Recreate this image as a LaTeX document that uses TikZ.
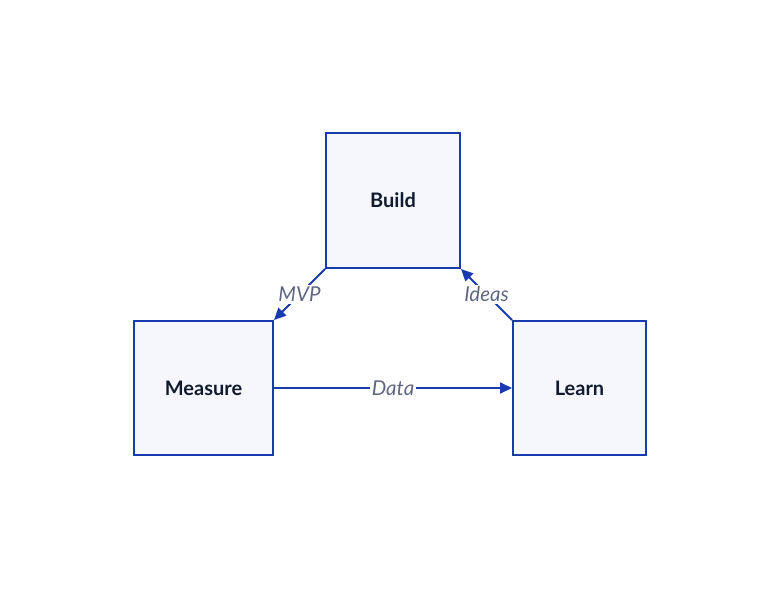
\documentclass[tikz,border=0pt]{standalone}
\usepackage{fontspec}
\setmainfont{Lato}
\usetikzlibrary{arrows.meta}
\definecolor{edgeblue}{HTML}{1A3AB0}
\definecolor{boxfill}{HTML}{F5F7FC}
\definecolor{txt}{HTML}{111A2E}
\definecolor{lbl}{HTML}{5E6682}
\tikzset{
  box/.style={draw=edgeblue, line width=2pt, fill=boxfill, inner sep=0pt,
    text=txt, font=\fontsize{20}{24}\selectfont\bfseries},
  conn/.style={draw=edgeblue, line width=2pt, -{Triangle[length=12pt,width=11pt]}},
  elabel/.style={fill=white, inner sep=2pt, text=lbl, font=\fontsize{20.5}{24}\selectfont\itshape}
}
\begin{document}
\begin{tikzpicture}[x=1pt,y=-1pt]
\useasboundingbox (0,0) rectangle (781,589);
\node[box, minimum width=134pt, minimum height=135pt] (build) at (393,200.5) {Build};
\node[box, minimum width=139pt, minimum height=134pt] (measure) at (203.5,388) {Measure};
\node[box, minimum width=133pt, minimum height=134pt] (learn) at (579.5,388) {Learn};
\draw[conn] (build.south west) -- node[elabel, pos=0.5] {MVP} (measure.north east);
\draw[conn] (learn.north west) -- node[elabel, pos=0.5] {Ideas} (build.south east);
\draw[conn] (measure.east) -- node[elabel, pos=0.5] {Data} (learn.west);
\end{tikzpicture}
\end{document}
